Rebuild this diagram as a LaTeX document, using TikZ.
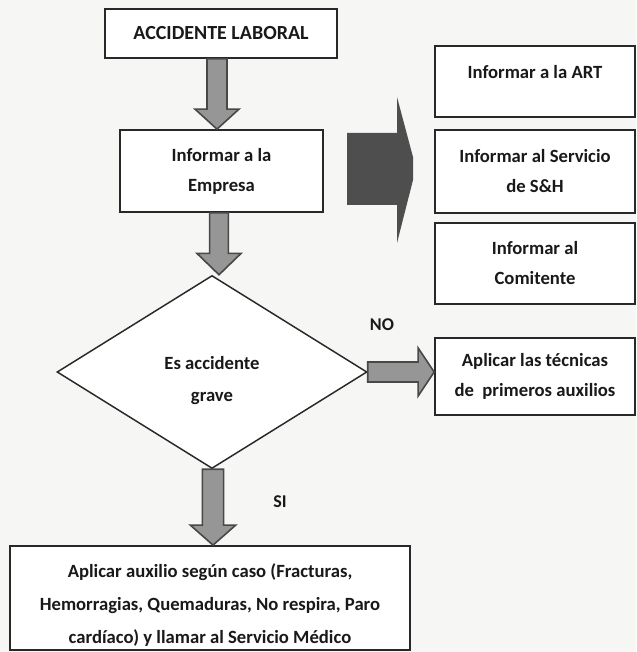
\documentclass[tikz,border=0pt]{standalone}
\usepackage{fontspec}
\setmainfont{Carlito}
\usetikzlibrary{shapes.geometric,calc}
\definecolor{bg}{RGB}{246,246,244}
\definecolor{ink}{RGB}{40,40,40}
\definecolor{txt}{RGB}{25,25,25}
\definecolor{darkarrow}{RGB}{78,78,78}
\definecolor{garrowfill}{RGB}{150,150,150}
\newcommand\lowered[2]{\raisebox{-#1}[0pt][0pt]{\begin{tabular}[c]{@{}c@{}}#2\end{tabular}}}
\tikzset{
  box/.style={draw=ink, line width=1.3pt, fill=white, inner sep=0pt, align=center,
    font=\bfseries\fontsize{14}{22.5}\selectfont, text=txt},
  dec/.style={diamond, draw=ink, line width=1.1pt, fill=white, inner sep=0pt, align=center,
    font=\bfseries\fontsize{14}{24}\selectfont, text=txt,
    minimum width={310*0.75pt}, minimum height={193*0.75pt}},
  lbl/.style={font=\bfseries\fontsize{13.5}{15}\selectfont, text=txt},
  garrow/.style={fill=garrowfill, draw=ink!85, line width=1.2pt, line join=miter},
  bigarrow/.style={fill=darkarrow, draw=none}
}
\begin{document}
\begin{tikzpicture}[x=0.75pt, y=-0.75pt]
\useasboundingbox (0,0) rectangle (636,652);
\fill[bg] (0,0) rectangle (636,652);

% boxes
\node[box, minimum width={232*0.75pt}, minimum height={49*0.75pt}, font=\bfseries\fontsize{15}{18}\selectfont] (acc) at (221,33.5) {ACCIDENTE LABORAL};
\node[box, minimum width={203*0.75pt}, minimum height={82*0.75pt}] (emp) at (221.5,171) {Informar a la\\Empresa};
\node[box, minimum width={200*0.75pt}, minimum height={71*0.75pt}] (art) at (535,81.5) {\lowered{-2.9pt}{Informar a la ART}};
\node[box, minimum width={200*0.75pt}, minimum height={83*0.75pt}] (sh) at (535,171.5) {Informar al Servicio\\de S\&H};
\node[box, minimum width={200*0.75pt}, minimum height={81*0.75pt}] (com) at (535,263.5) {Informar al\\Comitente};
\node[box, minimum width={200*0.75pt}, minimum height={77*0.75pt}] (prim) at (535,376.5) {Aplicar las técnicas\\de \ primeros auxilios};
\node[dec] (grave) at (212,372) {\lowered{8.7pt}{Es accidente\\grave}};
\node[box, minimum width={400*0.75pt}, minimum height={104*0.75pt}, font=\bfseries\fontsize{14}{24.75}\selectfont] (med) at (210,598)
  {\lowered{8pt}{Aplicar auxilio según caso (Fracturas,\\Hemorragias, Quemaduras, No respira, Paro\\cardíaco) y llamar al Servicio Médico}};

% labels
\node[lbl] (no) at (382,325) {NO};
\node[lbl] (si) at (280,502) {SI};

% arrow axes
\coordinate (ax1) at (217,0);
\coordinate (ax2) at (219,0);
\coordinate (ax3) at (213,0);

% vertical block arrows
\filldraw[garrow] let \p1=(acc.south -| ax1), \p2=(emp.north -| ax1) in
  (\x1-7.5pt,\y1) -- (\x1+7.5pt,\y1) -- (\x1+7.5pt,\y2+15pt) -- (\x1+16.5pt,\y2+15pt)
  -- (\x2,\y2) -- (\x1-16.5pt,\y2+15pt) -- (\x1-7.5pt,\y2+15pt) -- cycle;
\filldraw[garrow] let \p1=(emp.south -| ax2), \p2=(grave.north -| ax2) in
  (\x1-7pt,\y1) -- (\x1+7pt,\y1) -- (\x1+7pt,\y2+16pt) -- (\x1+16.5pt,\y2+16pt)
  -- (\x2,\y2) -- (\x1-16.5pt,\y2+16pt) -- (\x1-7pt,\y2+16pt) -- cycle;
\filldraw[garrow] let \p1=(grave.south -| ax3), \p2=(med.north -| ax3) in
  (\x1-8pt,\y1) -- (\x1+8pt,\y1) -- (\x1+8pt,\y2+15pt) -- (\x1+17pt,\y2+15pt)
  -- (\x2,\y2) -- (\x1-17pt,\y2+15pt) -- (\x1-8pt,\y2+15pt) -- cycle;
% horizontal block arrow (NO)
\filldraw[garrow] let \p1=(grave.east), \p2=(prim.west |- grave.east) in
  (\x1,\y1+7.5pt) -- (\x2-12pt,\y1+7.5pt) -- (\x2-12pt,\y1+18pt) -- (\x2,\y2)
  -- (\x2-12pt,\y1-18pt) -- (\x2-12pt,\y1-7.5pt) -- (\x1,\y1-7.5pt) -- cycle;

% big dark arrow
\fill[bigarrow] (347,133) -- (397,133) -- (397,97) -- (413,157) -- (413,180)
  -- (397,243) -- (397,205) -- (347,205) -- cycle;
\end{tikzpicture}
\end{document}
